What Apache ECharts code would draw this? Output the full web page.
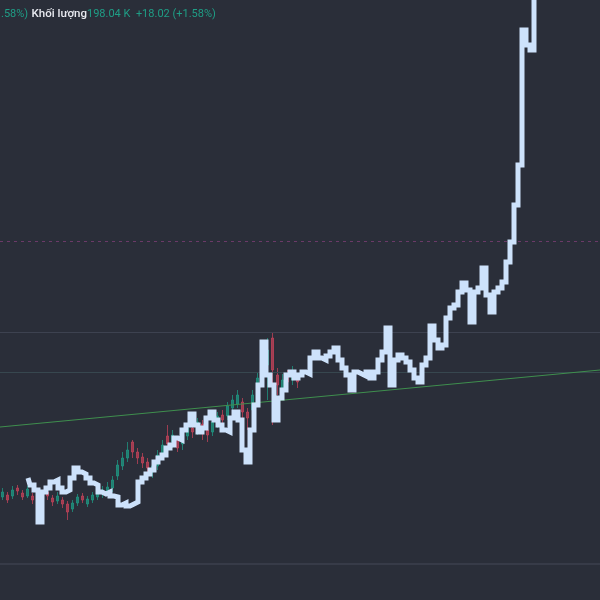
<!DOCTYPE html>
<html><head><meta charset="utf-8">
<script src="https://cdn.jsdelivr.net/npm/echarts@6/dist/echarts.min.js"></script>
<style>html,body{margin:0;padding:0;background:#2a2e39;}#c{width:600px;height:600px;}</style>
</head><body><div id="c"></div>
<script>
// Blue price line (value units), one point per session
const lineValues = [122,115,110,78,108,112,118,120,112,108,110,122,132,128,126,122,117,115,108,106,108,104,103,95,97,94,96,98,
118,122,126,130,138,142,145,152,155,162,160,170,175,186,175,168,172,182,188,180,175,170,168,182,188,180,150,138,170,195,215,258,
225,215,180,202,210,225,228,222,225,228,226,242,248,242,240,244,248,252,240,232,225,210,228,226,224,228,222,228,240,248,272,215,
240,245,242,238,230,222,218,235,242,274,260,252,255,282,292,295,308,317,310,278,308,312,332,305,288,308,312,318,338,358,395,435,
570,555,550,620];
const lineCategories = lineValues.map((_, i) => 'D' + (i + 1));

// Background candles [open, close, low, high]
const candleValues = [
[103,108,100,112],[105,100,97,108],[104,110,101,114],[112,109,105,115],[107,103,100,110],[104,111,102,114],
[104,100,96,107],[98,102,94,106],[102,106,99,110],[108,104,100,112],[102,98,94,105],[99,104,96,108],
[100,96,92,103],[96,88,80,99],[91,97,88,100],[97,103,94,106],[104,100,97,107],[96,101,93,104],
[100,105,97,108],[103,108,100,111],[106,110,102,114],[109,113,105,118],[112,120,108,124],[124,135,120,140],
[134,142,130,148],[142,150,138,158],[158,148,142,160],[148,142,136,152],[143,137,132,147],[138,132,126,142],
[128,134,122,138],[134,145,130,150],[145,155,140,160],[164,156,150,175],[158,165,152,170],[160,152,148,163],
[156,163,150,168],[164,172,160,176],[172,168,162,178],[170,178,165,182],[176,168,160,180],[170,165,158,174],
[168,178,164,182],[177,184,172,188],[185,180,175,190],[184,194,180,198],[192,200,188,205],[196,205,192,210],
[198,188,182,202],[188,182,170,192],[190,205,185,210],[208,222,200,228],[225,238,220,245],[235,250,200,262],
[262,230,175,268],[225,215,205,232],[212,220,205,226],[225,218,212,230],[220,228,215,234],[224,218,212,228]];
const candleCategories = candleValues.map((_, i) => 'C' + (i + 1));

// Horizontal levels and trend line
const levelValues = [268, 228];
const dashedLevel = 359;
const paneSeparator = 36;
const trendStart = 173, trendEnd = 230;

const chart = echarts.init(document.getElementById('c'));
chart.setOption({
  backgroundColor: '#2a2e39',
  animation: false,
  grid: [
    {left: 0, right: 0, top: 0, bottom: 0},
    {left: 28, right: 64, top: 0, bottom: 0},
    {left: 0, width: 300, top: 0, bottom: 0}
  ],
  xAxis: [
    {gridIndex: 0, type: 'value', min: 0, max: 1, show: false},
    {gridIndex: 1, type: 'category', data: lineCategories, boundaryGap: false, show: false},
    {gridIndex: 2, type: 'category', data: candleCategories, show: false}
  ],
  yAxis: [
    {gridIndex: 0, type: 'value', min: 0, max: 600, show: false},
    {gridIndex: 1, type: 'value', min: 0, max: 600, show: false},
    {gridIndex: 2, type: 'value', min: 0, max: 600, show: false}
  ],
  series: [
    {
      type: 'line', xAxisIndex: 0, yAxisIndex: 0, data: [], silent: true,
      markLine: {
        symbol: 'none', silent: true, label: {show: false},
        data: [
          {yAxis: levelValues[0], lineStyle: {color: '#3d4250', width: 1, type: 'solid'}},
          {yAxis: levelValues[1], lineStyle: {color: '#37474f', width: 1, type: 'solid'}},
          {yAxis: dashedLevel, lineStyle: {color: '#6b3a68', width: 1, type: [3, 4]}},
          {yAxis: paneSeparator, lineStyle: {color: '#373b48', width: 2, type: 'solid'}},
          [{coord: [0, trendStart], lineStyle: {color: '#3f8f4e', width: 1, type: 'solid'}}, {coord: [1, trendEnd]}]
        ]
      }
    },
    {
      type: 'candlestick', xAxisIndex: 2, yAxisIndex: 2, data: candleValues, barWidth: 2,
      itemStyle: {color: '#1f9a84', color0: '#c4435a', borderColor: '#1f9a84', borderColor0: '#c4435a', opacity: 0.75}
    },
    {
      type: 'line', xAxisIndex: 1, yAxisIndex: 1, data: lineValues, step: 'middle',
      symbol: 'none', lineStyle: {color: '#cde2fb', width: 5, join: 'miter', cap: 'butt'}, z: 5
    }
  ],
  graphic: [{
    type: 'text', left: 1, top: 8,
    style: {
      text: '{t|.58%)} {w|Khối lượng}{t|198.04 K  +18.02 (+1.58%)}',
      rich: {
        t: {fill: '#1f9e86', fontSize: 11, fontFamily: 'Roboto'},
        w: {fill: '#e8eaf0', fontSize: 11.5, fontFamily: 'Roboto', fontWeight: 500}
      }
    }
  }]
});
</script></body></html>
